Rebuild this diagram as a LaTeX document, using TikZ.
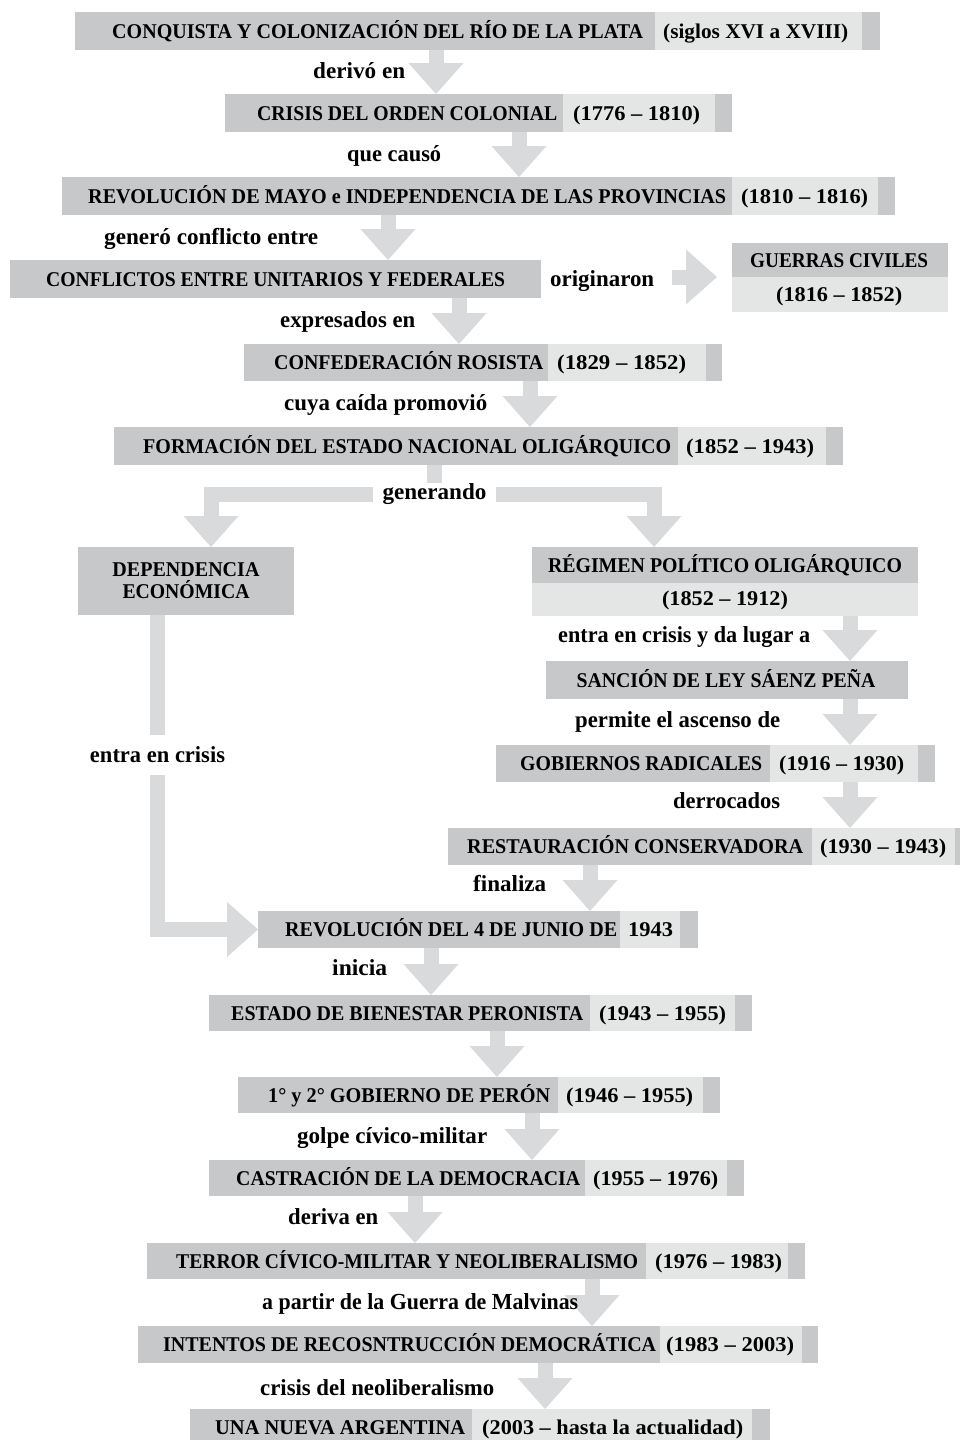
\documentclass[tikz,border=0pt]{standalone}
\usepackage{fontspec}
\setmainfont{Liberation Serif}
\usetikzlibrary{arrows.meta}
\definecolor{dk}{RGB}{199,200,202}
\definecolor{lt}{RGB}{228,229,229}
\definecolor{ar}{RGB}{217,218,220}
\newcommand\fw[2]{\resizebox{#1pt}{\height}{#2}}
\newcommand\bx[6]{\node[box, fill=#2, minimum width={#5-#3}, minimum height={#6-#4}] (#1) at (#3,#4) {};}
\begin{document}
\begin{tikzpicture}[x=1pt,y=-1pt,
  box/.style={inner sep=0pt, outer sep=0pt, anchor=north west, draw=none},
  ttl/.style={inner sep=0pt, anchor=base west, font=\fontsize{21}{24}\selectfont\bfseries},
  lbl/.style={inner sep=0pt, anchor=base west, font=\fontsize{23}{26}\selectfont\bfseries},
  barrow/.style={draw=ar, line width=15pt, -{Triangle[width=55pt,length=31pt,line width=0pt]}},
  bar/.style={draw=ar, line width=15pt},
]
\useasboundingbox (0,0) rectangle (960,1440);
\fill[white] (0,0) rectangle (960,1440);

% ---- boxes ----
\bx{b1}{dk}{75}{12}{880}{50}   \bx{b1d}{lt}{655}{12}{862}{50}
\bx{b2}{dk}{225}{94}{732}{132} \bx{b2d}{lt}{563}{94}{715}{132}
\bx{b3}{dk}{62}{177}{895}{215} \bx{b3d}{lt}{732}{177}{878}{215}
\bx{b4}{dk}{10}{260}{541}{298}
\bx{gue}{dk}{732}{243}{948}{277} \bx{gued}{lt}{732}{277}{948}{312}
\bx{b5}{dk}{244}{344}{722}{381} \bx{b5d}{lt}{548}{344}{706}{381}
\bx{b6}{dk}{114}{427}{843}{465} \bx{b6d}{lt}{678}{427}{826}{465}
\bx{dep}{dk}{78}{547}{294}{615}
\bx{reg}{dk}{532}{547}{918}{583} \bx{regd}{lt}{532}{583}{918}{616}
\bx{san}{dk}{546}{661}{908}{699}
\bx{gob}{dk}{496}{745}{935}{782} \bx{gobd}{lt}{770}{745}{918}{782}
\bx{res}{dk}{448}{828}{962}{865} \bx{resd}{lt}{812}{828}{955}{865}
\bx{jun}{dk}{258}{911}{698}{948} \bx{jund}{lt}{620}{911}{680}{948}
\bx{est}{dk}{209}{995}{752}{1031} \bx{estd}{lt}{590}{995}{735}{1031}
\bx{per}{dk}{238}{1077}{720}{1113} \bx{perd}{lt}{558}{1077}{703}{1113}
\bx{cas}{dk}{209}{1160}{744}{1196} \bx{casd}{lt}{585}{1160}{727}{1196}
\bx{ter}{dk}{147}{1243}{805}{1279} \bx{terd}{lt}{646}{1243}{788}{1279}
\bx{int}{dk}{138}{1326}{818}{1363} \bx{intd}{lt}{660}{1326}{802}{1363}
\bx{nue}{dk}{190}{1409}{770}{1446} \bx{nued}{lt}{472}{1409}{752}{1446}

% ---- box texts ----
\node[ttl] (t1) at (112,38) {\fw{531}{CONQUISTA Y COLONIZACIÓN DEL RÍO DE LA PLATA}};
\node[ttl] (d1) at (663,38) {\fw{185}{(siglos XVI a XVIII)}};
\node[ttl] (t2) at (257,120) {\fw{300}{CRISIS DEL ORDEN COLONIAL}};
\node[ttl] (d2) at (573,120) {\fw{127}{(1776 – 1810)}};
\node[ttl] (t3) at (88,203) {\fw{638}{REVOLUCIÓN DE MAYO e INDEPENDENCIA DE LAS PROVINCIAS}};
\node[ttl] (d3) at (741,203) {\fw{127}{(1810 – 1816)}};
\node[ttl] (t4) at (46,286) {\fw{459}{CONFLICTOS ENTRE UNITARIOS Y FEDERALES}};
\node[ttl] (tg) at (750,267) {\fw{178}{GUERRAS CIVILES}};
\node[ttl] (dg) at (776,301.5) {\fw{126}{(1816 – 1852)}};
\node[ttl] (t5) at (274,369.5) {\fw{269}{CONFEDERACIÓN ROSISTA}};
\node[ttl] (d5) at (557,369.5) {\fw{129}{(1829 – 1852)}};
\node[ttl] (t6) at (143,453) {\fw{528}{FORMACIÓN DEL ESTADO NACIONAL OLIGÁRQUICO}};
\node[ttl] (d6) at (686,453) {\fw{128}{(1852 – 1943)}};
\node[ttl, anchor=base] (tdep1) at (186,576) {\fw{147}{DEPENDENCIA}};
\node[ttl, anchor=base] (tdep2) at (186,598) {\fw{127}{ECONÓMICA}};
\node[ttl, anchor=base] (treg) at (725,572) {\fw{354}{RÉGIMEN POLÍTICO OLIGÁRQUICO}};
\node[ttl, anchor=base] (dreg) at (725,605.5) {\fw{126}{(1852 – 1912)}};
\node[ttl, anchor=base] (tsan) at (726,687) {\fw{299}{SANCIÓN DE LEY SÁENZ PEÑA}};
\node[ttl] (tgob) at (520,770.5) {\fw{242}{GOBIERNOS RADICALES}};
\node[ttl] (dgob) at (779,770.5) {\fw{125}{(1916 – 1930)}};
\node[ttl] (tres) at (467,853.5) {\fw{336}{RESTAURACIÓN CONSERVADORA}};
\node[ttl] (dres) at (820,853.5) {\fw{126}{(1930 – 1943)}};
\node[ttl] (tjun) at (285,936.5) {\fw{332}{REVOLUCIÓN DEL 4 DE JUNIO DE}};
\node[ttl] (djun) at (628,936.5) {\fw{45}{1943}};
\node[ttl] (test) at (231,1020) {\fw{352}{ESTADO DE BIENESTAR PERONISTA}};
\node[ttl] (dest) at (599,1020) {\fw{127}{(1943 – 1955)}};
\node[ttl] (tper) at (268,1102) {\fw{282}{1° y 2° GOBIERNO DE PERÓN}};
\node[ttl] (dper) at (566,1102) {\fw{127}{(1946 – 1955)}};
\node[ttl] (tcas) at (236,1185) {\fw{344}{CASTRACIÓN DE LA DEMOCRACIA}};
\node[ttl] (dcas) at (593,1185) {\fw{125}{(1955 – 1976)}};
\node[ttl] (tter) at (176,1268) {\fw{462}{TERROR CÍVICO-MILITAR Y NEOLIBERALISMO}};
\node[ttl] (dter) at (655,1268) {\fw{127}{(1976 – 1983)}};
\node[ttl] (tint) at (163,1351.5) {\fw{493}{INTENTOS DE RECOSNTRUCCIÓN DEMOCRÁTICA}};
\node[ttl] (dint) at (666,1351.5) {\fw{128}{(1983 – 2003)}};
\node[ttl] (tnue) at (215,1434) {\fw{250}{UNA NUEVA ARGENTINA}};
\node[ttl] (dnue) at (482,1434) {\fw{261}{(2003 – hasta la actualidad)}};

% ---- arrow axes ----
\coordinate (a1) at (436,0);
\coordinate (a2) at (519,0);
\coordinate (a3) at (388,0);
\coordinate (a5) at (459,0);
\coordinate (a6) at (530,0);
\coordinate (as) at (434.5,0);
\coordinate (aL) at (211,0);
\coordinate (aR) at (654,0);
\coordinate (ad) at (157.5,0);
\coordinate (ar) at (850,0);
\coordinate (af) at (590,0);
\coordinate (ai) at (431,0);
\coordinate (ae) at (497,0);
\coordinate (ap) at (532,0);
\coordinate (ac) at (415,0);
\coordinate (at) at (592,0);
\coordinate (an) at (545,0);
\coordinate (oa) at (672,277);
\coordinate (ob) at (717,277);

% ---- connectors ----
\draw[barrow] (a1 |- b1.south) -- (a1 |- b2.north);
\draw[barrow] (a2 |- b2.south) -- (a2 |- b3.north);
\draw[barrow] (a3 |- b3.south) -- (a3 |- b4.north);
\draw[barrow] (oa) -- (ob);
\draw[barrow] (a5 |- b4.south) -- (a5 |- b5.north);
\draw[barrow] (a6 |- b5.south) -- (a6 |- b6.north);
\node[inner sep=0pt, fill=white, minimum width=123, minimum height=23,
      font=\fontsize{23}{26}\selectfont\bfseries] (gen) at (434.5,494.5) {\fw{104}{generando}};
\draw[bar] (as |- b6.south) -- (as |- gen.north);
\draw[barrow] (gen.west) -| (aL |- dep.north);
\draw[barrow] (gen.east) -| (aR |- reg.north);
\draw[barrow] (ad |- dep.south) |- (jun.west);
\node[inner sep=0pt, fill=white, minimum height=40,
      font=\fontsize{23}{26}\selectfont\bfseries] (crisis) at (157.5,755) {\fw{135}{entra en crisis}};
\draw[barrow] (ar |- regd.south) -- (ar |- san.north);
\draw[barrow] (ar |- san.south) -- (ar |- gob.north);
\draw[barrow] (ar |- gob.south) -- (ar |- res.north);
\draw[barrow] (af |- res.south) -- (af |- jun.north);
\draw[barrow] (ai |- jun.south) -- (ai |- est.north);
\draw[barrow] (ae |- est.south) -- (ae |- per.north);
\draw[barrow] (ap |- per.south) -- (ap |- cas.north);
\draw[barrow] (ac |- cas.south) -- (ac |- ter.north);
\draw[barrow] (at |- ter.south) -- (at |- int.north);
\draw[barrow] (an |- int.south) -- (an |- nue.north);

% ---- labels ----
\node[lbl] (l1) at (313,78) {\fw{92}{derivó en}};
\node[lbl] (l2) at (347,161) {\fw{94}{que causó}};
\node[lbl] (l3) at (104,244) {\fw{214}{generó conflicto entre}};
\node[lbl] (l4) at (550,286) {\fw{104}{originaron}};
\node[lbl] (l5) at (280,327) {\fw{135}{expresados en}};
\node[lbl] (l6) at (284,410) {\fw{203}{cuya caída promovió}};
\node[lbl] (l7) at (558,642) {\fw{252}{entra en crisis y da lugar a}};
\node[lbl] (l8) at (575,727) {\fw{205}{permite el ascenso de}};
\node[lbl] (l9) at (673,808) {\fw{107}{derrocados}};
\node[lbl] (l10) at (473,891) {\fw{73}{finaliza}};
\node[lbl] (l11) at (332,975) {\fw{55}{inicia}};
\node[lbl] (l12) at (297,1143) {\fw{190}{golpe cívico-militar}};
\node[lbl] (l13) at (288,1224) {\fw{90}{deriva en}};
\node[lbl] (l14) at (262,1309) {\fw{316}{a partir de la Guerra de Malvinas}};
\node[lbl] (l15) at (260,1395) {\fw{234}{crisis del neoliberalismo}};
\end{tikzpicture}
\end{document}
